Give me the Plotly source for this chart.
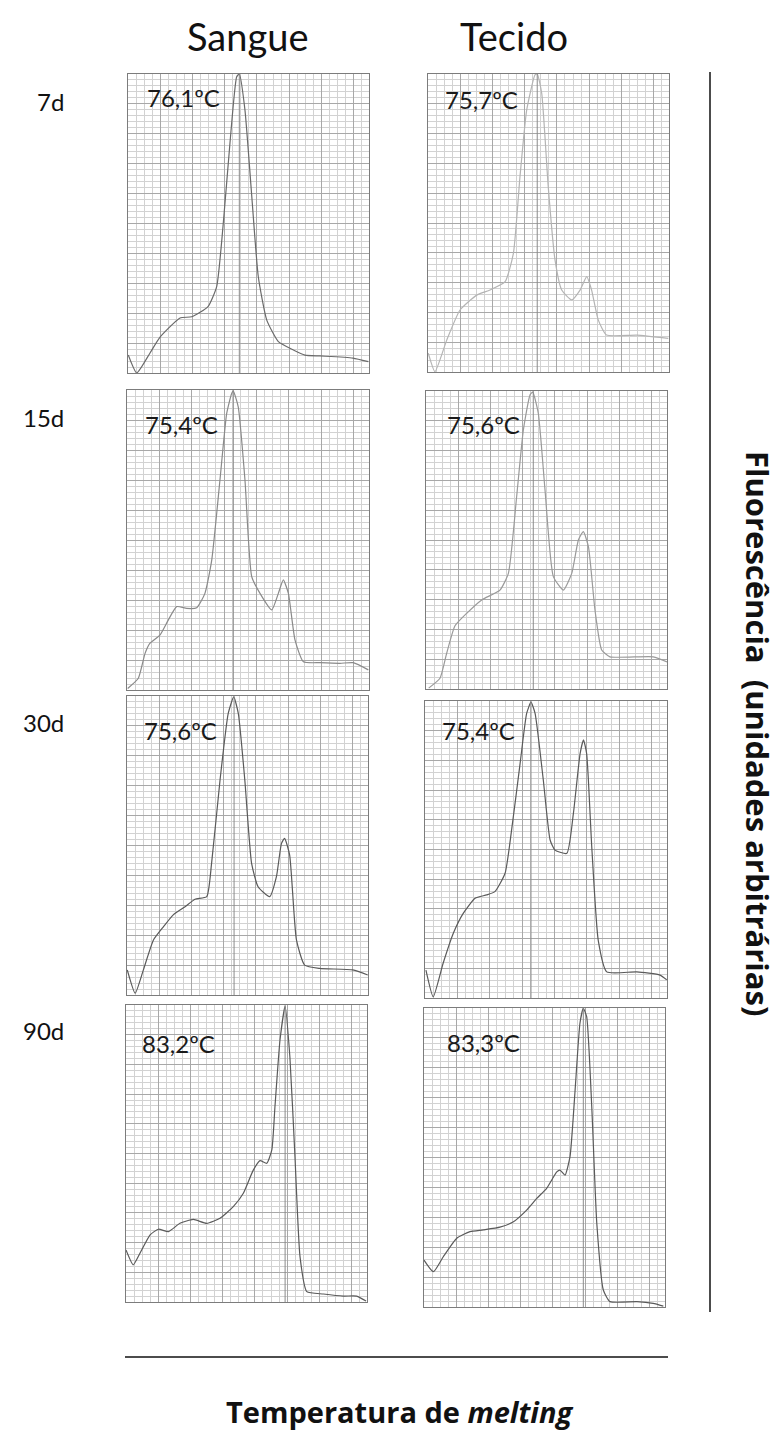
import plotly.graph_objects as go

# ---------------- data ----------------
columns = ["Sangue", "Tecido"]
rows = ["7d", "15d", "30d", "90d"]

# Tm labels per panel (row-major: Sangue, Tecido)
tm_labels = ["76,1ºC", "75,7ºC", "75,4ºC", "75,6ºC", "75,6ºC", "75,4ºC", "83,2ºC", "83,3ºC"]
# peak positions (°C)
peak_t = [76.08, 75.77, 75.27, 75.48, 75.45, 75.22, 83.2, 83.23]

# melt-curve derivative traces (temperature °C, fluorescence a.u. 0-100)
t_sangue_7d = [59.54, 60.8, 62.78, 64.27, 67.25, 68.99, 71.42, 72.71, 73.65, 74.69, 75.69, 76.08,
               76.92, 77.9, 78.91, 80.17, 81.9, 84.13, 85.86, 88.1, 93.0, 95.3]
f_sangue_7d = [6.0, 0.0, 6.7, 12.0, 18.4, 18.8, 22.2, 28.9, 48.9, 76.9, 99.1, 100,
               88.0, 60.2, 32.2, 17.7, 10.5, 7.7, 6.0, 5.7, 5.0, 3.8]

t_tecido_7d = [59.54, 60.54, 62.29, 64.27, 66.75, 68.73, 70.98, 72.22, 73.2, 74.2, 75.44, 75.77,
               76.44, 77.41, 78.42, 79.42, 80.9, 82.15, 83.15, 83.87, 84.87, 86.1, 90.59, 95.3]
f_tecido_7d = [6.3, 0.1, 10.7, 20.8, 25.8, 27.5, 30.3, 39.8, 65.5, 87.9, 99.7, 100,
               93.5, 62.2, 37.6, 27.5, 24.2, 27.5, 32.0, 27.5, 17.4, 12.4, 12.4, 11.3]

t_sangue_15d = [59.6, 61.18, 62.18, 62.91, 64.38, 65.62, 66.87, 68.36, 69.84, 71.06, 72.07, 73.29,
                74.29, 75.04, 75.27, 76.0, 77.0, 78.0, 79.23, 80.97, 81.95, 82.69, 83.44, 84.42,
                85.67, 88.14, 91.1, 93.07, 95.3]
f_sangue_15d = [0.5, 3.9, 12.2, 15.6, 18.3, 23.3, 27.8, 27.2, 27.4, 32.2, 43.3, 70.0,
                92.2, 98.9, 99.6, 94.4, 70.0, 37.8, 32.2, 26.7, 32.2, 36.7, 32.2, 16.7,
                9.4, 9.1, 8.9, 9.1, 6.7]

t_tecido_15d = [59.9, 61.58, 62.58, 63.82, 65.56, 67.8, 70.52, 71.77, 73.0, 74.0, 75.0, 75.4,
                76.23, 77.23, 78.47, 79.96, 81.21, 82.2, 82.94, 83.7, 84.67, 85.67, 86.9,
                93.35, 95.4]
f_tecido_15d = [0.3, 3.6, 12.0, 21.2, 25.4, 29.9, 33.2, 38.8, 64.5, 86.9, 98.7, 99.6,
                92.5, 66.8, 37.7, 33.2, 38.8, 50.0, 52.8, 47.7, 26.5, 13.1, 10.8,
                10.8, 9.1]

t_sangue_30d = [59.54, 60.72, 61.94, 63.44, 64.92, 66.39, 68.15, 69.63, 71.38, 72.1, 73.36, 74.58,
                75.4, 76.08, 77.05, 78.06, 79.03, 80.75, 81.76, 82.51, 82.98, 83.73, 84.74,
                85.96, 88.18, 93.14, 95.36]
f_sangue_30d = [8.4, 0.6, 8.4, 18.4, 22.8, 26.8, 29.5, 32.0, 32.9, 44.0, 71.9, 94.2,
                99.7, 94.2, 71.9, 44.0, 36.2, 32.9, 39.6, 50.7, 52.4, 46.8, 18.4,
                10.0, 8.9, 8.4, 6.7]

t_tecido_30d = [59.64, 60.72, 62.19, 63.7, 65.17, 66.93, 68.65, 69.87, 71.38, 72.35, 73.61, 74.58,
                75.22, 75.83, 77.05, 78.06, 78.78, 80.54, 81.51, 82.51, 83.01, 83.48, 84.24,
                85.2, 86.46, 90.91, 94.36, 95.36]
f_tecido_30d = [9.4, 0.4, 11.7, 21.8, 28.5, 33.6, 34.7, 35.8, 42.0, 56.6, 79.0, 95.8,
                99.6, 95.8, 73.4, 53.2, 49.8, 48.7, 62.1, 82.3, 86.9, 82.3, 50.8,
                19.4, 8.8, 8.8, 7.7, 6.1]

t_sangue_90d = [59.5, 60.58, 61.58, 63.09, 64.31, 65.82, 67.54, 69.52, 71.53, 73.5, 75.48, 76.98,
                78.46, 79.46, 80.47, 81.22, 81.69, 82.44, 83.2, 83.91, 84.67, 85.42, 86.43,
                88.9, 91.88, 93.86, 95.26]
f_sangue_90d = [17.5, 12.5, 16.4, 22.6, 24.5, 23.7, 26.5, 27.8, 26.5, 28.2, 32.1, 36.6,
                44.4, 47.6, 46.7, 51.2, 65.8, 88.2, 99.6, 82.6, 48.9, 15.3, 3.5,
                2.7, 2.0, 2.0, 0.3]

t_tecido_90d = [59.5, 60.9, 62.37, 64.38, 66.36, 68.33, 70.81, 72.82, 74.79, 76.3, 77.77, 79.28,
                79.75, 80.5, 81.25, 82.01, 82.73, 83.23, 83.73, 84.49, 85.24, 86.21, 87.21,
                91.2, 93.64, 95.15]
f_tecido_90d = [15.7, 11.8, 16.8, 23.0, 25.2, 25.8, 26.7, 28.5, 32.4, 36.3, 39.7, 45.2,
                45.8, 44.1, 50.3, 72.6, 94.9, 99.9, 97.1, 67.0, 28.0, 5.7, 1.8,
                1.8, 1.2, 0.3]

curves_t = [t_sangue_7d, t_tecido_7d, t_sangue_15d, t_tecido_15d,
            t_sangue_30d, t_tecido_30d, t_sangue_90d, t_tecido_90d]
curves_f = [f_sangue_7d, f_tecido_7d, f_sangue_15d, f_tecido_15d,
            f_sangue_30d, f_tecido_30d, f_sangue_90d, f_tecido_90d]

y_title = "Fluorescência  (unidades arbitrárias)"
x_title = "<b>Temperatura de <i>melting</i></b>"

# ---------------- layout / style ----------------
W, H = 781, 1432
# panel boxes in pixels: (left, right, top, bottom)
boxes = [
    (128, 369, 74, 373), (428, 669, 74, 372),
    (127, 369, 390, 690), (426, 667, 391, 689),
    (127, 368, 696, 995), (425, 667, 701, 998),
    (126, 367, 1005, 1302), (424, 665, 1008, 1307),
]
line_colors = ["#6a6a6a", "#b4b4b4", "#8a8a8a", "#9a9a9a",
               "#5a5a5a", "#5a5a5a", "#5a5a5a", "#5a5a5a"]
label_pos = [(145, 97), (443, 100), (143, 425), (445, 425),
             (142, 730), (440, 730), (140, 1043), (445, 1042)]

TMIN, TMAX = 59.5, 95.4
FONT = "Lato"

fig = go.Figure()
layout = dict(width=W, height=H, margin=dict(l=0, r=0, t=0, b=0),
              paper_bgcolor="white", plot_bgcolor="white", showlegend=False)

shapes = []
annotations = []
for i, (l, r, t, b) in enumerate(boxes):
    k = "" if i == 0 else str(i + 1)
    xa, ya = "xaxis" + k, "yaxis" + k
    xr, yr = "x" + k, "y" + k
    layout[xa] = dict(domain=[l / W, r / W], range=[TMIN, TMAX], anchor=yr,
                      showticklabels=False, ticks="", zeroline=False,
                      showgrid=True, gridcolor="#a8a8a8", gridwidth=1,
                      tick0=TMIN, dtick=4.8,
                      minor=dict(showgrid=True, gridcolor="#d2d2d2", gridwidth=1,
                                 tick0=TMIN, dtick=1.2),
                      showline=True, mirror=True, linecolor="#7c7c7c", linewidth=1,
                      fixedrange=True)
    layout[ya] = dict(domain=[1 - b / H, 1 - t / H], range=[0, 100], anchor=xr,
                      showticklabels=False, ticks="", zeroline=False,
                      showgrid=True, gridcolor="#a8a8a8", gridwidth=1,
                      tick0=0, dtick=10,
                      minor=dict(showgrid=True, gridcolor="#d2d2d2", gridwidth=1,
                                 tick0=0, dtick=2),
                      showline=True, mirror=True, linecolor="#7c7c7c", linewidth=1,
                      fixedrange=True)
    fig.add_trace(go.Scatter(x=curves_t[i], y=curves_f[i], mode="lines",
                             xaxis=xr, yaxis=yr, cliponaxis=True,
                             line=dict(color=line_colors[i], width=1.2,
                                       shape="spline", smoothing=0.5),
                             hoverinfo="skip"))
    shapes.append(dict(type="line", xref=xr, yref=yr + " domain",
                       x0=peak_t[i], x1=peak_t[i], y0=0, y1=1,
                       line=dict(color="#8a8a8a", width=1)))
    lx, ly = label_pos[i]
    annotations.append(dict(text=tm_labels[i], xref="paper", yref="paper",
                            x=lx / W, y=1 - ly / H, xanchor="left", yanchor="middle",
                            showarrow=False, font=dict(family=FONT, size=24, color="#1a1a1a")))

# column titles
for name, cx in zip(columns, [248, 514]):
    annotations.append(dict(text=name, xref="paper", yref="paper", x=cx / W, y=1 - 36 / H,
                            xanchor="center", yanchor="middle", showarrow=False,
                            font=dict(family=FONT, size=38, color="#111")))
# row labels
for name, cy in zip(rows, [102, 418, 722, 1030]):
    annotations.append(dict(text=name, xref="paper", yref="paper", x=66 / W, y=1 - cy / H,
                            xanchor="right", yanchor="middle", showarrow=False,
                            font=dict(family=FONT, size=24, color="#111")))
# right axis line + title
shapes.append(dict(type="line", xref="paper", yref="paper", x0=710 / W, x1=710 / W,
                    y0=1 - 72 / H, y1=1 - 1312 / H, line=dict(color="#111", width=1.5)))
annotations.append(dict(text="<b>" + y_title + "</b>", xref="paper", yref="paper",
                        x=758 / W, y=1 - 733 / H, xanchor="center", yanchor="middle",
                        textangle=90, showarrow=False,
                        font=dict(family="Open Sans", size=31, color="#111")))
# bottom axis line + title
shapes.append(dict(type="line", xref="paper", yref="paper", x0=125 / W, x1=668 / W,
                    y0=1 - 1357 / H, y1=1 - 1357 / H, line=dict(color="#111", width=1.5)))
annotations.append(dict(text=x_title, xref="paper", yref="paper",
                        x=399 / W, y=1 - 1411 / H, xanchor="center", yanchor="middle",
                        showarrow=False, font=dict(family="Open Sans", size=29, color="#111")))

layout["shapes"] = shapes
layout["annotations"] = annotations
fig.update_layout(**layout)
fig.write_html("out.html", config={"displayModeBar": False},
               post_script="document.body.style.margin='0';document.body.style.padding='0';")
